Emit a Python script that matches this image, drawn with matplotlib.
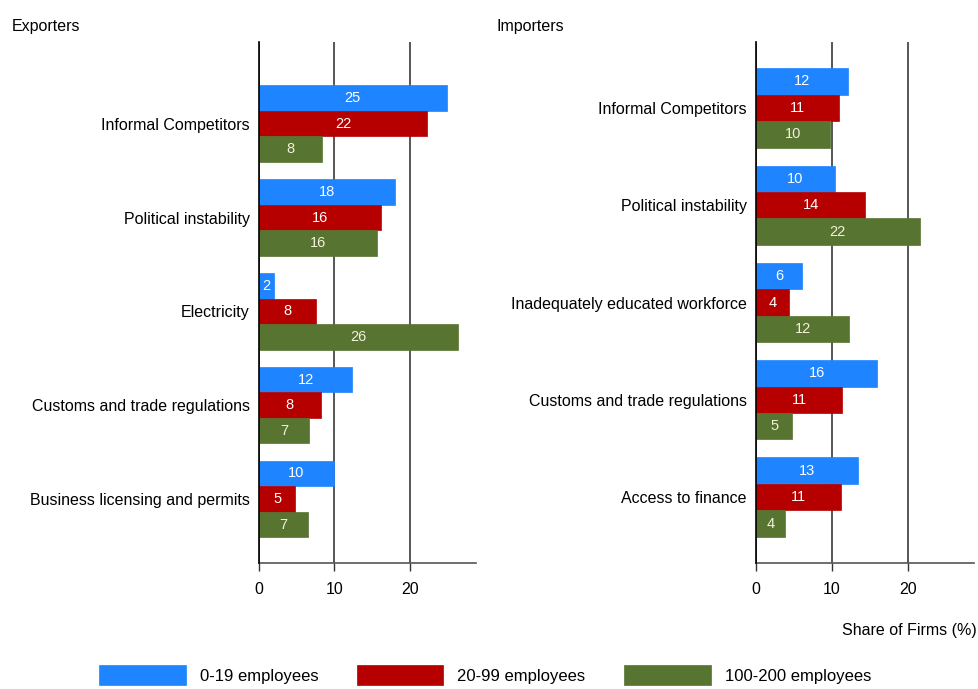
import matplotlib
matplotlib.use("Agg")
import matplotlib.pyplot as plt
import numpy as np

plt.rcParams['font.family'] = ['Liberation Sans', 'DejaVu Sans']

series_names = ["0-19 employees", "20-99 employees", "100-200 employees"]
colors = ["#1f84ff", "#b60000", "#577431"]
label_colors = ["white", "white", "#f2f0dc"]

exp_categories = ["Informal Competitors", "Political instability", "Electricity",
                  "Customs and trade regulations", "Business licensing and permits"]
exp_small = [24.9, 18.1, 2.0, 12.4, 9.9]
exp_medium = [22.3, 16.2, 7.5, 8.2, 4.8]
exp_large = [8.4, 15.6, 26.4, 6.6, 6.5]
exp_small_lbl = ["25", "18", "2", "12", "10"]
exp_medium_lbl = ["22", "16", "8", "8", "5"]
exp_large_lbl = ["8", "16", "26", "7", "7"]

imp_categories = ["Informal Competitors", "Political instability",
                  "Inadequately educated workforce", "Customs and trade regulations",
                  "Access to finance"]
imp_small = [12.1, 10.4, 6.1, 16.0, 13.4]
imp_medium = [10.9, 14.4, 4.3, 11.4, 11.2]
imp_large = [9.7, 21.6, 12.3, 4.8, 3.8]
imp_small_lbl = ["12", "10", "6", "16", "13"]
imp_medium_lbl = ["11", "14", "4", "11", "11"]
imp_large_lbl = ["10", "22", "12", "5", "4"]

xticks = [0, 10, 20]

W, H = 979, 689
fig = plt.figure(figsize=(W / 100, H / 100), dpi=100)

def px_axes(x0, x1, ytop, ybot):
    return fig.add_axes([x0 / W, 1 - ybot / H, (x1 - x0) / W, (ybot - ytop) / H])

bh = 0.272

def draw(ax, cats, vals, lbls, ylim):
    y = np.arange(len(cats))
    handles = []
    for k in range(3):
        bars = ax.barh(y + (k - 1) * bh, vals[k], height=bh, color=colors[k],
                       edgecolor=colors[k], linewidth=0.5, zorder=3,
                       label=series_names[k])
        handles.append(bars)
        ax.bar_label(bars, labels=lbls[k], label_type='center',
                     color=label_colors[k], fontsize=10.5, zorder=4)
    ax.set_yticks(y)
    ax.set_yticklabels(cats, fontsize=11.5)
    ax.set_ylim(*ylim)
    ax.set_xlim(0, 28.8)
    ax.set_xticks(xticks)
    ax.set_xticklabels([str(t) for t in xticks], fontsize=11.5)
    ax.tick_params(axis='y', length=0, pad=6.5)
    ax.tick_params(axis='x', length=5.8, width=1.0, color='#333333', pad=8)
    for s in ['top', 'right']:
        ax.spines[s].set_visible(False)
    ax.spines['left'].set_color('black')
    ax.spines['left'].set_linewidth(1.2)
    ax.spines['left'].set_zorder(5)
    ax.spines['bottom'].set_color('#555555')
    ax.spines['bottom'].set_linewidth(1.2)
    ax.set_axisbelow(True)
    ax.grid(axis='x', color='#3a3a3a', linewidth=1.2)
    return handles

ax1 = px_axes(259, 476, 42, 563)
h = draw(ax1, exp_categories, [exp_small, exp_medium, exp_large],
         [exp_small_lbl, exp_medium_lbl, exp_large_lbl], (4.682, -0.871))

ax2 = px_axes(756, 974.3, 42, 563)
draw(ax2, imp_categories, [imp_small, imp_medium, imp_large],
     [imp_small_lbl, imp_medium_lbl, imp_large_lbl], (4.678, -0.678))

fig.text(12 / W, 1 - 27 / H, "Exporters", fontsize=11.5, va='center', ha='left')
fig.text(497 / W, 1 - 27 / H, "Importers", fontsize=11.5, va='center', ha='left')
fig.text(977 / W, 1 - 630 / H, "Share of Firms (%)", fontsize=11.5, va='center', ha='right')

fig.legend(handles=h, labels=series_names, loc='center', ncol=3,
           bbox_to_anchor=(485 / W, 1 - 675 / H), frameon=False, fontsize=12,
           handlelength=5.2, handleheight=1.5, handletextpad=0.85,
           columnspacing=2.3)

fig.savefig("out.png", dpi=100)
